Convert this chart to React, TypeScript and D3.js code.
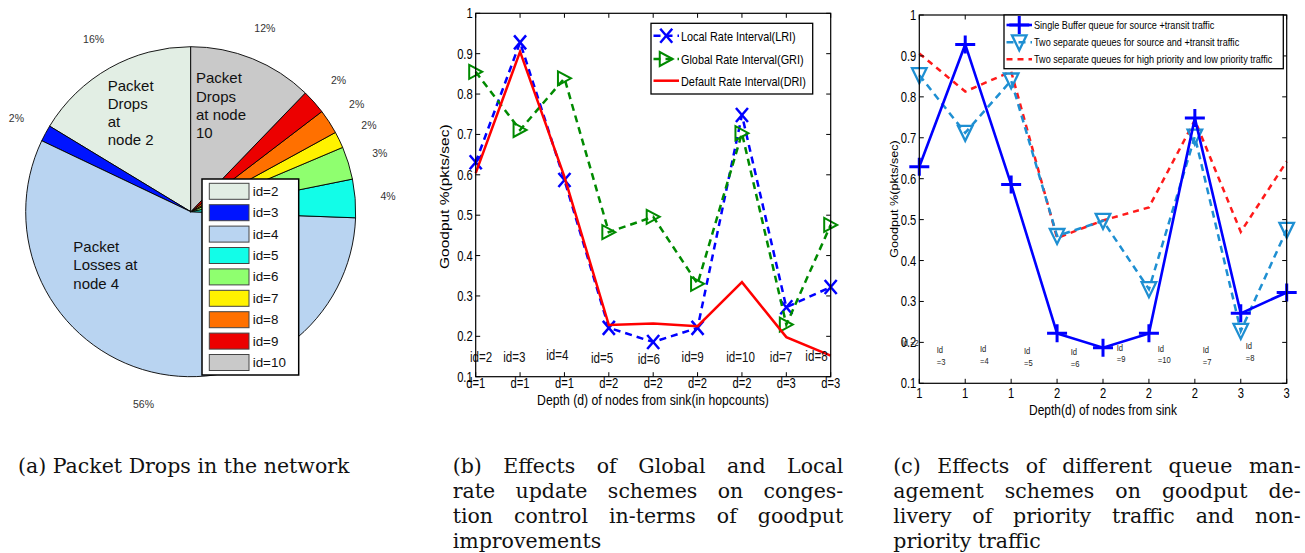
import { useEffect, useRef } from "react";
import * as d3 from "d3";

const W = 1305;
const H = 553;

// (a) packet drops per node
const PIE_IDS = ["id=2", "id=3", "id=4", "id=5", "id=6", "id=7", "id=8", "id=9", "id=10"];
const PIE_SHARE = [16.3, 1.6, 56.4, 3.75, 3.2, 1.6, 2.4, 2.4, 12.2];
const PIE_COLORS = ["#e2eee4", "#0014ff", "#b9d4f1", "#12fde8", "#8fff6f", "#fff200", "#ff7000", "#ec0000", "#c9c9c9"];

// (b) rate update schemes
const DEPTH_B = ["d=1", "d=1", "d=1", "d=2", "d=2", "d=2", "d=2", "d=3", "d=3"];
const LRI = [0.631, 0.928, 0.587, 0.221, 0.186, 0.221, 0.748, 0.272, 0.322];
const GRI = [0.855, 0.711, 0.839, 0.458, 0.496, 0.33, 0.703, 0.229, 0.476];
const DRI = [0.604, 0.905, 0.595, 0.228, 0.232, 0.225, 0.334, 0.198, 0.152];
const NODE_LABELS_B = ["id=2", "id=3", "id=4", "id=5", "id=6", "id=9", "id=10", "id=7", "id=8"];
const NODE_AT_X_B = [1.12, 1.87, 2.84, 3.85, 4.9, 5.89, 6.97, 7.88, 8.68];
const NODE_AT_Y_B = [0.149, 0.149, 0.154, 0.146, 0.144, 0.149, 0.149, 0.149, 0.151];

// (c) queue management schemes
const DEPTH_C = ["1", "1", "1", "2", "2", "2", "2", "3", "3"];
const SINGLE_BUF = [0.629, 0.928, 0.586, 0.222, 0.187, 0.222, 0.748, 0.271, 0.322];
const TWO_QUEUES = [0.853, 0.712, 0.84, 0.46, 0.497, 0.33, 0.703, 0.228, 0.475];
const PRIO_QUEUES = [0.906, 0.813, 0.862, 0.455, 0.498, 0.53, 0.743, 0.47, 0.642];
const NODE_LABELS_C = [["Id =2"], ["Id", "=3"], ["Id", "=4"], ["Id", "=5"], ["Id", "=6"], ["Id", "=9"], ["Id", "=10"], ["Id", "=7"], ["Id", "=8"]];
const NODE_AT_X_C = [0.617, 1.379, 2.322, 3.28, 4.297, 5.299, 6.192, 7.172, 8.108];
const NODE_AT_Y_C = [0.199, 0.181, 0.184, 0.179, 0.176, 0.188, 0.185, 0.181, 0.191];

const Y_TICKS = [0.1, 0.2, 0.3, 0.4, 0.5, 0.6, 0.7, 0.8, 0.9, 1];

const CAPTION_A = ["(a) Packet Drops in the network"];
const CAPTION_B = ["(b) Effects of Global and Local", "rate update schemes on conges-", "tion control in-terms of goodput", "improvements"];
const CAPTION_C = ["(c) Effects of different queue man-", "agement schemes on goodput de-", "livery of priority traffic and non-", "priority traffic"];

const SX = 0.8; // the MATLAB panels are squeezed horizontally

type Sel = d3.Selection<SVGGElement, unknown, null, undefined>;

function txt(g: Sel, x: number, y: number, s: string, size: number, o: any = {}) {
  return g.append("text")
    .attr("transform", `translate(${x},${y}) scale(${o.sx ?? 1},1)${o.rotate ? ` rotate(${o.rotate})` : ""}`)
    .attr("font-size", size)
    .attr("text-anchor", o.anchor ?? "start")
    .attr("fill", o.fill ?? "#000")
    .text(s);
}

function markerPath(type: string) {
  switch (type) {
    case "x": return "M-6,-7L6,7M-6,7L6,-7";
    case "tri-right": return "M-6.5,-7L-6.5,7L6.5,0Z";
    case "tri-down": return "M-7.3,-7L7.3,-7L0,8Z";
    case "plus": return "M-10,0H10M0,-9V9";
    default: return "";
  }
}

function drawAxes(g: Sel, x: d3.ScaleLinear<number, number>, y: d3.ScaleLinear<number, number>, labels: string[], lab: any) {
  const [x0, x1] = x.range();
  const [y0, y1] = y.range();
  const tl = 4.5;
  g.append("rect").attr("x", x0).attr("y", y1).attr("width", x1 - x0).attr("height", y0 - y1)
    .attr("fill", "none").attr("stroke", "#000").attr("stroke-width", 1.2);
  labels.forEach((l, i) => {
    const px = x(i + 1);
    g.append("line").attr("x1", px).attr("x2", px).attr("y1", y0).attr("y2", y0 - tl).attr("stroke", "#000");
    g.append("line").attr("x1", px).attr("x2", px).attr("y1", y1).attr("y2", y1 + tl).attr("stroke", "#000");
    txt(g, px, y0 + lab.xTickDy, l, 14, { sx: SX, anchor: "middle" });
  });
  Y_TICKS.forEach((v) => {
    const py = y(v);
    g.append("line").attr("x1", x0).attr("x2", x0 + tl).attr("y1", py).attr("y2", py).attr("stroke", "#000");
    g.append("line").attr("x1", x1).attr("x2", x1 - tl).attr("y1", py).attr("y2", py).attr("stroke", "#000");
    txt(g, x0 - 3, py + 5, v === 1 ? "1" : v.toFixed(1), 14, { sx: SX, anchor: "end" });
  });
}

function drawSeries(g: Sel, x: d3.ScaleLinear<number, number>, y: d3.ScaleLinear<number, number>, values: number[], s: any) {
  const line = d3.line<number>().x((_, i) => x(i + 1)).y((d) => y(d));
  g.append("path").attr("d", line(values)).attr("fill", "none").attr("stroke", s.color)
    .attr("stroke-width", s.width).attr("stroke-dasharray", s.dash ?? null);
  if (s.marker) {
    g.append("g").selectAll("path").data(values).join("path")
      .attr("transform", (d, i) => `translate(${x(i + 1)},${y(d)})`)
      .attr("d", markerPath(s.marker)).attr("fill", "none").attr("stroke", s.color)
      .attr("stroke-width", s.markerWidth ?? s.width);
  }
}

function drawLegend(g: Sel, box: number[], rows: number[], items: any[], size: number) {
  const [bx, by, bw, bh] = box;
  g.append("rect").attr("x", bx).attr("y", by).attr("width", bw).attr("height", bh)
    .attr("fill", "#fff").attr("stroke", "#000").attr("stroke-width", 1.3);
  items.forEach((it, i) => {
    const ry = rows[i];
    const lx0 = bx + 2.5, lx1 = bx + 28;
    g.append("line").attr("x1", lx0).attr("x2", lx1).attr("y1", ry).attr("y2", ry)
      .attr("stroke", it.color).attr("stroke-width", it.width).attr("stroke-dasharray", it.dash ?? null);
    if (it.marker) {
      g.append("path").attr("transform", `translate(${(lx0 + lx1) / 2},${ry})`).attr("d", markerPath(it.marker))
        .attr("fill", "none").attr("stroke", it.color).attr("stroke-width", it.markerWidth ?? it.width);
    }
    txt(g, lx1 + 2, ry + size * 0.36, it.label, size, { sx: SX });
  });
}

function drawCaption(g: Sel, lines: string[], x: number, y: number, width: number) {
  const lh = 25;
  lines.forEach((line, i) => {
    const words = line.split(" ");
    const last = i === lines.length - 1;
    const nodes = words.map((w) => g.append("text").attr("y", y + i * lh).attr("font-family", "DejaVu Serif")
      .attr("font-size", 20.5).attr("fill", "#111").text(w));
    const widths = nodes.map((n) => (n.node() as SVGTextElement).getComputedTextLength());
    const total = d3.sum(widths);
    const gap = last || words.length < 2 ? 20.5 * 0.318 : (width - total) / (words.length - 1);
    let cx = x;
    nodes.forEach((n, j) => { n.attr("x", cx); cx += widths[j] + gap; });
  });
}

export default function App() {
  const svgRef = useRef<SVGSVGElement>(null);

  useEffect(() => {
    if (!svgRef.current) return;
    const svg = d3.select(svgRef.current);
    svg.selectAll("*").remove();
    const root = svg.append("g") as unknown as Sel;

    // ---------- (a) pie ----------
    const ga = root.append("g");
    const cx = 190.7, cy = 211.7, R = 165;
    const pie = d3.pie<number>().sort(null).startAngle(0).endAngle(-2 * Math.PI);
    const arcs = pie(PIE_SHARE);
    const arc = d3.arc<d3.PieArcDatum<number>>().innerRadius(0).outerRadius(R);
    const labArc = d3.arc<d3.PieArcDatum<number>>().innerRadius(R * 1.2).outerRadius(R * 1.2);
    const pg = ga.append("g").attr("transform", `translate(${cx},${cy})`);
    pg.selectAll("path").data(arcs).join("path")
      .attr("d", arc as any).attr("fill", (_, i) => PIE_COLORS[i])
      .attr("stroke", "#000").attr("stroke-width", 0.9);
    pg.selectAll("text.pct").data(arcs).join("text").attr("class", "pct")
      .attr("x", (d) => labArc.centroid(d)[0]).attr("y", (d) => labArc.centroid(d)[1])
      .attr("text-anchor", "middle").attr("dominant-baseline", "central")
      .attr("font-size", 10.5).attr("fill", "#333")
      .text((d) => `${Math.round(d.value)}%`);
    const blocks: [number, number, string[]][] = [
      [-83, -126.7, ["Packet", "Drops", "at", "node 2"]],
      [5.3, -134, ["Packet", "Drops", "at node", "10"]],
      [-117.4, 35, ["Packet", "Losses at", "node 4"]],
    ];
    blocks.forEach(([bx, by, lines]) => {
      lines.forEach((l, i) => {
        pg.append("text").attr("x", bx).attr("y", by + i * 18.3).attr("dominant-baseline", "central")
          .attr("font-size", 15).attr("fill", "#111").text(l);
      });
    });
    // pie legend
    ga.append("rect").attr("x", 202).attr("y", 179).attr("width", 96.7).attr("height", 196)
      .attr("fill", "#fff").attr("stroke", "#000").attr("stroke-width", 1.5);
    PIE_IDS.forEach((id, i) => {
      const sy = 183.3 + i * 21.4;
      ga.append("rect").attr("x", 209.3).attr("y", sy).attr("width", 39.7).attr("height", 16)
        .attr("fill", PIE_COLORS[i]).attr("stroke", "#444").attr("stroke-width", 1);
      ga.append("text").attr("x", 252.7).attr("y", sy + 8).attr("dominant-baseline", "central")
        .attr("font-size", 13.4).attr("fill", "#111").text(id);
    });

    // ---------- (b) ----------
    const gb = root.append("g") as unknown as Sel;
    const xb = d3.scaleLinear().domain([1, 9]).range([475.7, 830.7]);
    const yb = d3.scaleLinear().domain([0.1, 1]).range([376.7, 13.3]);
    drawSeries(gb, xb, yb, LRI, { color: "#0000ff", width: 2.5, dash: "7,5", marker: "x" });
    drawSeries(gb, xb, yb, GRI, { color: "#008a00", width: 2.5, dash: "7,5", marker: "tri-right", markerWidth: 2 });
    drawSeries(gb, xb, yb, DRI, { color: "#ff0000", width: 2.5 });
    NODE_LABELS_B.forEach((l, i) => {
      txt(gb, xb(NODE_AT_X_B[i]), yb(NODE_AT_Y_B[i]) + 5, l, 14.5, { sx: SX, anchor: "middle", fill: "#111" });
    });
    drawAxes(gb, xb, yb, DEPTH_B, { xTickDy: 11 });
    txt(gb, 653, 404.5, "Depth (d) of nodes from sink(in hopcounts)", 15.3, { sx: SX, anchor: "middle" });
    txt(gb, 449, 196.7, "Goodput %(pkts/sec)", 15.5, { sx: SX, anchor: "middle", rotate: -90 });
    drawLegend(gb, [651, 23.3, 161.7, 70.7], [35.7, 59, 80.7], [
      { label: "Local Rate Interval(LRI)", color: "#0000ff", width: 2.5, dash: "7,5", marker: "x" },
      { label: "Global Rate Interval(GRI)", color: "#008a00", width: 2.5, dash: "7,5", marker: "tri-right", markerWidth: 2 },
      { label: "Default Rate Interval(DRI)", color: "#ff0000", width: 2.5 },
    ], 13.6);

    // ---------- (c) ----------
    const gc = root.append("g") as unknown as Sel;
    const xc = d3.scaleLinear().domain([1, 9]).range([919.3, 1286.7]);
    const yc = d3.scaleLinear().domain([0.1, 1]).range([383.3, 15]);
    drawSeries(gc, xc, yc, PRIO_QUEUES, { color: "#ff1a1a", width: 2.5, dash: "6,5" });
    drawSeries(gc, xc, yc, TWO_QUEUES, { color: "#1e8fd2", width: 2.5, dash: "7,5", marker: "tri-down", markerWidth: 2.3 });
    drawSeries(gc, xc, yc, SINGLE_BUF, { color: "#0000ff", width: 2.6, marker: "plus", markerWidth: 3 });
    NODE_LABELS_C.forEach((lines, i) => {
      lines.forEach((l, j) => {
        txt(gc, xc(NODE_AT_X_C[i]), yc(NODE_AT_Y_C[i]) + 3.3 + j * 11.5, l, 9.5, { sx: SX, fill: "#222" });
      });
    });
    drawAxes(gc, xc, yc, DEPTH_C, { xTickDy: 14.8 });
    txt(gc, 1103, 415, "Depth(d) of nodes from sink", 15, { sx: SX, anchor: "middle" });
    txt(gc, 897.5, 199, "Goodput %(pkts/sec)", 12.6, { sx: SX, anchor: "middle", rotate: -90 });
    drawLegend(gc, [1004, 15, 279.3, 53.7], [25, 42.3, 59.3], [
      { label: "Single Buffer queue for source +transit traffic", color: "#0000ff", width: 2.6, marker: "plus", markerWidth: 3 },
      { label: "Two separate queues for source and +transit traffic", color: "#1e8fd2", width: 2.5, dash: "7,5", marker: "tri-down", markerWidth: 2.3 },
      { label: "Two separate queues for high priority and low priority traffic", color: "#ff1a1a", width: 2.5, dash: "6,5" },
    ], 11.4);

    // ---------- captions ----------
    drawCaption(root, CAPTION_A, 18, 473.3, 344);
    drawCaption(root, CAPTION_B, 452.7, 473.3, 390.6);
    drawCaption(root, CAPTION_C, 893.3, 473.3, 407.4);
  }, []);

  return (
    <svg
      ref={svgRef}
      width={W}
      height={H}
      style={{ position: "absolute", left: 0, top: 0, background: "#fff", fontFamily: "Liberation Sans, Arial, Helvetica, sans-serif" }}
    />
  );
}
